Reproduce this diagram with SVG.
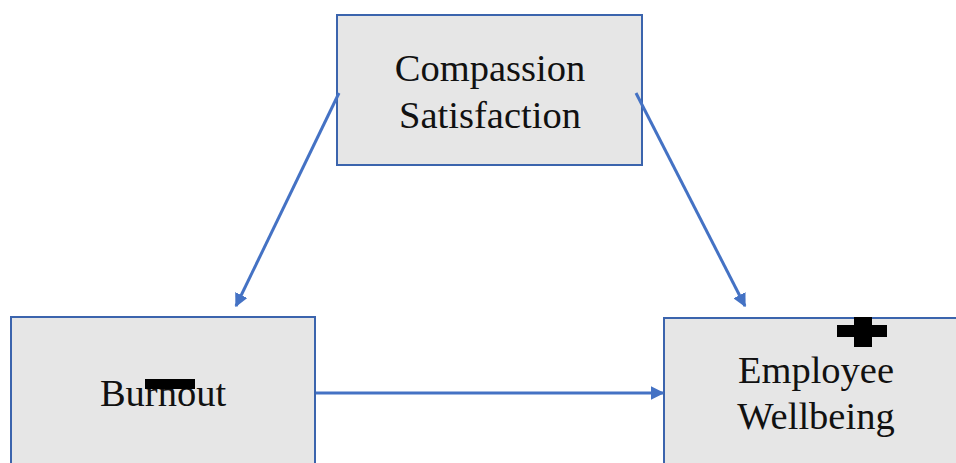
<svg xmlns="http://www.w3.org/2000/svg" width="956" height="463" viewBox="0 0 956 463">
<style>
.box{fill:#e6e6e6;stroke:#3b64ad;stroke-width:2}
.lbl{font-family:"Liberation Serif","Times New Roman",serif;font-size:38.5px;fill:#111;text-anchor:middle}
.con{stroke:#4472c4;stroke-width:3;fill:none}
</style>
<defs>
<marker id="ah" viewBox="0 0 10 10" refX="9" refY="5" markerWidth="4.5" markerHeight="4.5" markerUnits="strokeWidth" orient="auto">
<path d="M0,0 L10,5 L0,10 z" fill="#4472c4"/>
</marker>
</defs>
<rect width="956" height="463" fill="#fff"/>
<g id="compassion">
<rect class="box" x="337" y="15" width="305" height="150"/>
<text class="lbl" x="490" y="81">Compassion</text>
<text class="lbl" x="490" y="128">Satisfaction</text>
</g>
<g id="burnout">
<rect class="box" x="11" y="317" width="304" height="160"/>
<text class="lbl" x="163" y="406">Burnout</text>
<rect x="145" y="379" width="50" height="10" fill="#000"/>
</g>
<g id="wellbeing">
<rect class="box" x="664" y="318" width="310" height="160"/>
<text class="lbl" x="816" y="383">Employee</text>
<text class="lbl" x="816" y="429">Wellbeing</text>
<rect x="837" y="325" width="50" height="12" fill="#000"/>
<rect x="854" y="317" width="18" height="30" fill="#000"/>
</g>
<g id="connectors">
<line class="con" x1="339" y1="93" x2="236" y2="306" marker-end="url(#ah)"/>
<line class="con" x1="636" y1="93" x2="745" y2="306" marker-end="url(#ah)"/>
<line class="con" x1="316" y1="393" x2="663" y2="393" marker-end="url(#ah)"/>
</g>
</svg>
